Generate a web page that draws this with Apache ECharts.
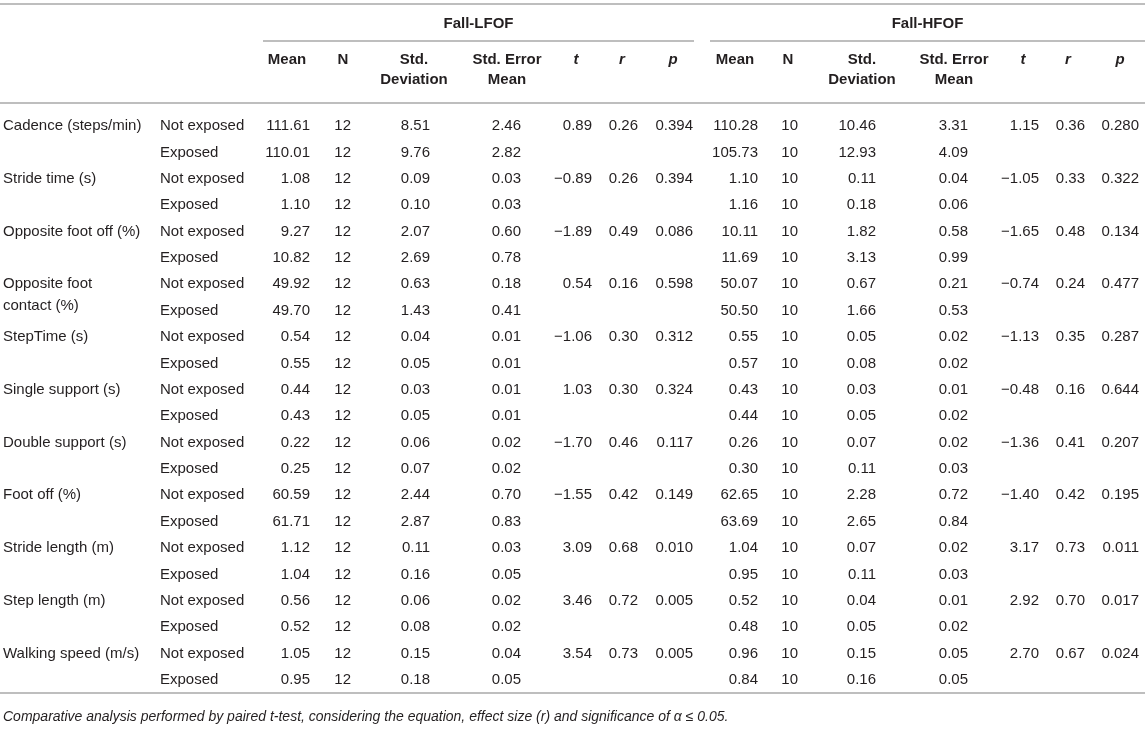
<!DOCTYPE html>
<html>
<head>
<meta charset="utf-8">
<title>Fall-LFOF / Fall-HFOF gait parameters</title>
<script src="https://cdn.jsdelivr.net/npm/echarts@6/dist/echarts.min.js"></script>
<style>
    html, body { margin: 0; padding: 0; background: #fff; }
    #chart { width: 1145px; height: 731px; }
</style>
</head>
<body>
<div id="chart"></div>
<script>
var measures = ['Cadence (steps/min)', 'Stride time (s)', 'Opposite foot off (%)', 'Opposite foot\ncontact (%)',
    'StepTime (s)', 'Single support (s)', 'Double support (s)', 'Foot off (%)', 'Stride length (m)',
    'Step length (m)', 'Walking speed (m/s)'];
var conditions = ['Not exposed', 'Exposed'];

// Fall-LFOF, two rows per measure (not exposed, exposed)
var lfofN = 12;
var lfofMean = [111.61, 110.01, 1.08, 1.10, 9.27, 10.82, 49.92, 49.70, 0.54, 0.55, 0.44, 0.43,
    0.22, 0.25, 60.59, 61.71, 1.12, 1.04, 0.56, 0.52, 1.05, 0.95];
var lfofSD = [8.51, 9.76, 0.09, 0.10, 2.07, 2.69, 0.63, 1.43, 0.04, 0.05, 0.03, 0.05,
    0.06, 0.07, 2.44, 2.87, 0.11, 0.16, 0.06, 0.08, 0.15, 0.18];
var lfofSEM = [2.46, 2.82, 0.03, 0.03, 0.60, 0.78, 0.18, 0.41, 0.01, 0.01, 0.01, 0.01,
    0.02, 0.02, 0.70, 0.83, 0.03, 0.05, 0.02, 0.02, 0.04, 0.05];
// one value per measure
var lfofT = [0.89, -0.89, -1.89, 0.54, -1.06, 1.03, -1.70, -1.55, 3.09, 3.46, 3.54];
var lfofR = [0.26, 0.26, 0.49, 0.16, 0.30, 0.30, 0.46, 0.42, 0.68, 0.72, 0.73];
var lfofP = [0.394, 0.394, 0.086, 0.598, 0.312, 0.324, 0.117, 0.149, 0.010, 0.005, 0.005];

// Fall-HFOF
var hfofN = 10;
var hfofMean = [110.28, 105.73, 1.10, 1.16, 10.11, 11.69, 50.07, 50.50, 0.55, 0.57, 0.43, 0.44,
    0.26, 0.30, 62.65, 63.69, 1.04, 0.95, 0.52, 0.48, 0.96, 0.84];
var hfofSD = [10.46, 12.93, 0.11, 0.18, 1.82, 3.13, 0.67, 1.66, 0.05, 0.08, 0.03, 0.05,
    0.07, 0.11, 2.28, 2.65, 0.07, 0.11, 0.04, 0.05, 0.15, 0.16];
var hfofSEM = [3.31, 4.09, 0.04, 0.06, 0.58, 0.99, 0.21, 0.53, 0.02, 0.02, 0.01, 0.02,
    0.02, 0.03, 0.72, 0.84, 0.02, 0.03, 0.01, 0.02, 0.05, 0.05];
var hfofT = [1.15, -1.05, -1.65, -0.74, -1.13, -0.48, -1.36, -1.40, 3.17, 2.92, 2.70];
var hfofR = [0.36, 0.33, 0.48, 0.24, 0.35, 0.16, 0.41, 0.42, 0.73, 0.70, 0.67];
var hfofP = [0.280, 0.322, 0.134, 0.477, 0.287, 0.644, 0.207, 0.195, 0.011, 0.017, 0.024];

var groupTitles = ['Fall-LFOF', 'Fall-HFOF'];
var colTitles = ['Mean', 'N', 'Std.\nDeviation', 'Std. Error\nMean', 't', 'r', 'p'];
var footnote = 'Comparative analysis performed by paired t-test, considering the equation, effect size (r) and significance of \u03b1 \u2264 0.05.';

// ---- layout ----
var W = 1145, H = 731;
var FONT = '"Liberation Sans", Arial, Helvetica, sans-serif';
var TXT = '#231f20';
var RULE = '#a9a9a9';
var ROW_TOP = 112.8, ROW_BOTTOM = 693.2;   // 22 bands of ~26.4px
// anchor x for each cell column: label, condition, then 7 per group
var colX = [3, 160, 310, 351, 430, 521, 592, 638, 693, 758, 798, 876, 968, 1039, 1085, 1139];
var headX = [[287, 343, 414, 507, 576, 622, 673], [735, 788, 862, 954, 1023, 1068, 1120]];
var groupSpan = [[263, 694], [710, 1145]];

var fmt = function(_v, _d) {
    return (_v < 0 ? '\u2212' : '') + Math.abs(_v).toFixed(_d);
};

// build the cell list from the arrays
var rowKeys = [];
var cells = [];
var addGroup = function(_base, _row, _m, _c, _n, _mean, _sd, _sem, _t, _r, _p) {
    cells.push({ col: _base, row: _row, text: fmt(_mean[_row], 2) });
    cells.push({ col: _base + 1, row: _row, text: String(_n) });
    cells.push({ col: _base + 2, row: _row, text: fmt(_sd[_row], 2) });
    cells.push({ col: _base + 3, row: _row, text: fmt(_sem[_row], 2) });
    if (_c === 0) {
        cells.push({ col: _base + 4, row: _row, text: fmt(_t[_m], 2) });
        cells.push({ col: _base + 5, row: _row, text: fmt(_r[_m], 2) });
        cells.push({ col: _base + 6, row: _row, text: fmt(_p[_m], 3) });
    }
};
for (var m = 0; m < measures.length; m++) {
    for (var c = 0; c < conditions.length; c++) {
        var row = m * 2 + c;
        rowKeys.push(measures[m].replace('\n', ' ') + ' / ' + conditions[c]);
        if (c === 0) {
            cells.push({ col: 0, row: row, text: measures[m] });
        }
        cells.push({ col: 1, row: row, text: conditions[c] });
        addGroup(2, row, m, c, lfofN, lfofMean, lfofSD, lfofSEM, lfofT, lfofR, lfofP);
        addGroup(9, row, m, c, hfofN, hfofMean, hfofSD, hfofSEM, hfofT, hfofR, hfofP);
    }
}

var renderCell = function(params, api) {
    var cell = cells[params.dataIndex];
    var pt = api.coord([api.value(0), api.value(1)]);
    var align = cell.col < 2 ? 'left' : 'right';
    var multi = cell.text.indexOf('\n') >= 0;
    return {
        type: 'text',
        style: {
            text: cell.text,
            x: pt[0],
            y: multi ? pt[1] - 11 : pt[1],
            font: '15px ' + FONT,
            lineHeight: 22,
            fill: TXT,
            align: align,
            textAlign: align,
            verticalAlign: multi ? 'top' : 'middle',
            textVerticalAlign: multi ? 'top' : 'middle'
        }
    };
};

// ---- header / rules as graphic elements ----
var hline = function(_x1, _x2, _y) {
    return {
        type: 'line', silent: true,
        shape: { x1: _x1, y1: _y, x2: _x2, y2: _y },
        style: { stroke: RULE, lineWidth: 1.5 }
    };
};
var htext = function(_t, _x, _y, _italic) {
    return {
        type: 'text', silent: true, x: _x, y: _y,
        style: {
            text: _t,
            font: (_italic ? 'italic ' : '') + 'bold 15px ' + FONT,
            fill: TXT, lineHeight: 20,
            align: 'center', textAlign: 'center',
            verticalAlign: 'top', textVerticalAlign: 'top'
        }
    };
};
var graphics = [hline(0, W, 4), hline(0, W, 103)];
for (var g = 0; g < 2; g++) {
    graphics.push(hline(groupSpan[g][0], groupSpan[g][1], 41));
    graphics.push(htext(groupTitles[g], (groupSpan[g][0] + groupSpan[g][1]) / 2, 14, false));
    for (var k = 0; k < colTitles.length; k++) {
        graphics.push(htext(colTitles[k], headX[g][k], 50, k >= 4));
    }
}
graphics.push({
    type: 'text', silent: true, x: 3, y: 717,
    style: {
        text: footnote, font: 'italic 14px ' + FONT, fill: TXT,
        align: 'left', textAlign: 'left',
        verticalAlign: 'middle', textVerticalAlign: 'middle'
    }
});

var chart = echarts.init(document.getElementById('chart'), null, { renderer: 'canvas' });
chart.setOption({
    animation: false,
    backgroundColor: '#fff',
    grid: { left: 0, right: 0, top: ROW_TOP, bottom: H - ROW_BOTTOM },
    xAxis: {
        type: 'value', min: 0, max: W,
        axisLine: { show: true, onZero: false, lineStyle: { color: RULE, width: 1.5 } },
        axisTick: { show: false }, axisLabel: { show: false }, splitLine: { show: false }
    },
    yAxis: {
        type: 'category', data: rowKeys, inverse: true, show: false
    },
    graphic: graphics,
    series: [{
        type: 'custom',
        renderItem: renderCell,
        clip: false,
        data: cells.map(function(item) { return [colX[item.col], item.row]; })
    }]
});
</script>
</body>
</html>
